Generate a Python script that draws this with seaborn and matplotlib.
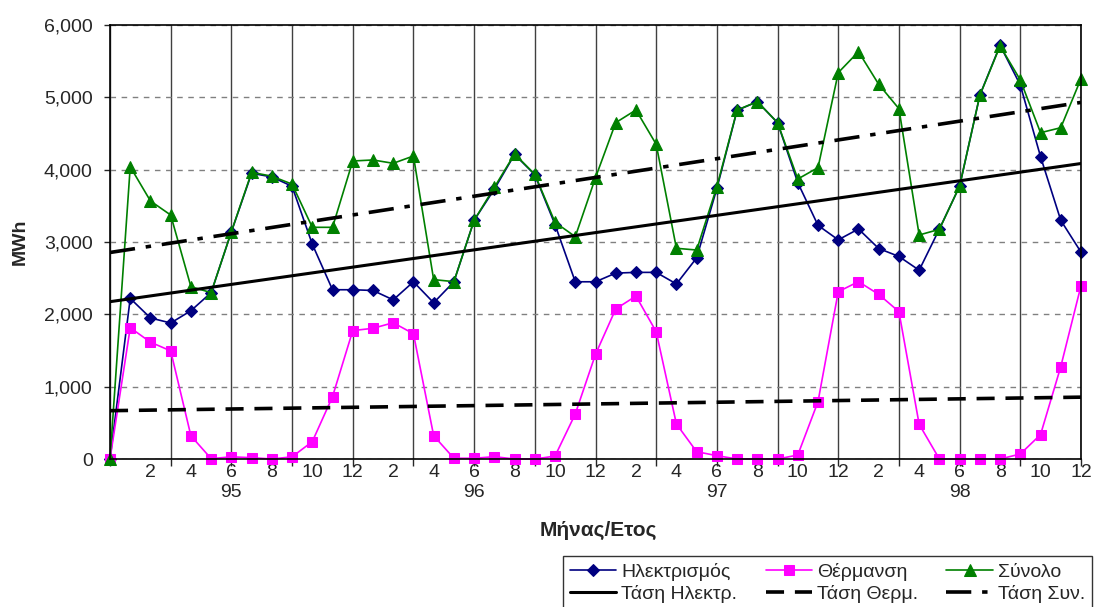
import matplotlib
matplotlib.use('Agg')
import matplotlib.pyplot as plt
import seaborn as sns
from matplotlib.ticker import FixedLocator, FuncFormatter
from matplotlib.transforms import blended_transform_factory

# monthly values 1995-1998 (month 0 = start point)
months = list(range(0, 49))
elec = [0, 2220, 1950, 1880, 2050, 2300, 3140, 3950, 3900, 3770,
        2970, 2340, 2340, 2330, 2200, 2450, 2160, 2450, 3300, 3730,
        4210, 3930, 3240, 2450, 2450, 2570, 2580, 2580, 2420, 2780,
        3740, 4820, 4940, 4650, 3820, 3230, 3030, 3180, 2910, 2800,
        2610, 3180, 3770, 5030, 5720, 5170, 4180, 3300, 2860]
heat = [0, 1815, 1615, 1495, 320, 5, 30, 18, 0, 30,
        240, 862, 1775, 1807, 1884, 1732, 322, 10, 10, 32,
        0, 0, 40, 622, 1447, 2074, 2253, 1760, 484, 101,
        46, 0, 0, 0, 55, 793, 2313, 2452, 2276, 2037,
        479, 0, 0, 0, 0, 69, 337, 1277, 2396]
total = [0, 4040, 3567, 3373, 2382, 2300, 3143, 3963, 3910, 3800,
         3203, 3203, 4120, 4134, 4088, 4189, 2480, 2452, 3300, 3756,
         4217, 3936, 3272, 3074, 3889, 4650, 4825, 4351, 2913, 2889,
         3765, 4825, 4940, 4650, 3871, 4028, 5341, 5631, 5180, 4843,
         3097, 3175, 3774, 5028, 5710, 5240, 4511, 4580, 5258]

# trend line end points
trend_x = [0, 48]
elec_trend = [2175, 4085]
heat_trend = [668, 855]
total_trend = [2855, 4930]

years = ['95', '96', '97', '98']
year_pos = [6, 18, 30, 42]

sns.set_style('white')
plt.rcParams['font.family'] = ['Liberation Sans', 'DejaVu Sans']

fig = plt.figure(figsize=(10.94, 6.07), dpi=100)
ax = fig.add_axes([110/1094, 1-459/607, 971/1094, 434/607])

# the three series
sns.lineplot(x=months, y=elec, ax=ax, color='#000080', marker='D', markersize=6,
             markeredgecolor='#000080', linewidth=1.2, label='Ηλεκτρισμός', clip_on=False)
sns.lineplot(x=months, y=heat, ax=ax, color='#FF00FF', marker='s', markersize=6.5,
             markeredgecolor='#FF00FF', linewidth=1.2, label='Θέρμανση', clip_on=False)
sns.lineplot(x=months, y=total, ax=ax, color='#008000', marker='^', markersize=8,
             markeredgecolor='#008000', linewidth=1.2, label='Σύνολο', clip_on=False)

# trend lines
sns.lineplot(x=trend_x, y=elec_trend, ax=ax, color='black', linewidth=2.2,
             label='Τάση Ηλεκτρ.')
sns.lineplot(x=trend_x, y=heat_trend, ax=ax, color='black', linewidth=2.6,
             linestyle=(0, (5, 3)), label='Τάση Θερμ.')
sns.lineplot(x=trend_x, y=total_trend, ax=ax, color='black', linewidth=2.6,
             linestyle=(0, (7, 3, 1.5, 3)), label='Τάση Συν.')

ax.set_xlim(0, 48)
ax.set_ylim(0, 6000)

# y axis
ax.set_yticks(range(0, 6001, 1000))
ax.yaxis.set_major_formatter(FuncFormatter(lambda v, p: f'{int(v):,}'))
ax.yaxis.grid(True, color='#808080', linestyle=(0, (4, 4)), linewidth=1)
ax.tick_params(axis='y', direction='out', length=4.5, width=1, pad=8,
               labelsize=14, left=True)

# x axis: tick marks / grid every 3 months, labels every 2 months
ax.xaxis.remove_overlapping_locs = False
ax.xaxis.set_major_locator(FixedLocator(list(range(0, 49, 3))))
ax.xaxis.set_minor_locator(FixedLocator(list(range(2, 49, 2))))
ax.xaxis.set_major_formatter(FuncFormatter(lambda v, p: ''))
ax.xaxis.set_minor_formatter(FuncFormatter(lambda v, p: str((int(v) - 1) % 12 + 1)))
ax.xaxis.grid(True, which='major', color='#404040', linestyle='-', linewidth=1)
ax.tick_params(axis='x', which='major', direction='out', length=5, width=1, bottom=True)
ax.tick_params(axis='x', which='minor', length=0, pad=3.5, labelsize=14, bottom=True)
ax.set_axisbelow(True)

for s in ax.spines.values():
    s.set_color('black')
    s.set_linewidth(1.2)

trans = blended_transform_factory(ax.transData, ax.transAxes)
for y, p in zip(years, year_pos):
    ax.text(p, -0.077, y, transform=trans, ha='center', va='center', fontsize=14)

fig.text(598/1094, 1-530/607, 'Μήνας/Ετος', ha='center', va='center',
         fontsize=15, fontweight='bold')
fig.text(20/1094, 1-242/607, 'MWh', ha='center', va='center', rotation=90,
         fontsize=14, fontweight='bold')

# legend below the plot, column-wise order
handles, labels = ax.get_legend_handles_labels()
order = [0, 3, 1, 4, 2, 5]
ax.get_legend().remove()
leg = fig.legend([handles[i] for i in order], [labels[i] for i in order],
                 ncol=3, loc='upper left', mode='expand',
                 bbox_to_anchor=(563/1094, 1-556/607, (1092-563)/1094, 0),
                 frameon=True, fancybox=False, edgecolor='black', fontsize=14,
                 handlelength=2.4, handletextpad=0.25, columnspacing=0.8,
                 labelspacing=0.2, borderpad=0.35, borderaxespad=0)
leg.get_frame().set_linewidth(1)

fig.savefig('out.png', dpi=100)
